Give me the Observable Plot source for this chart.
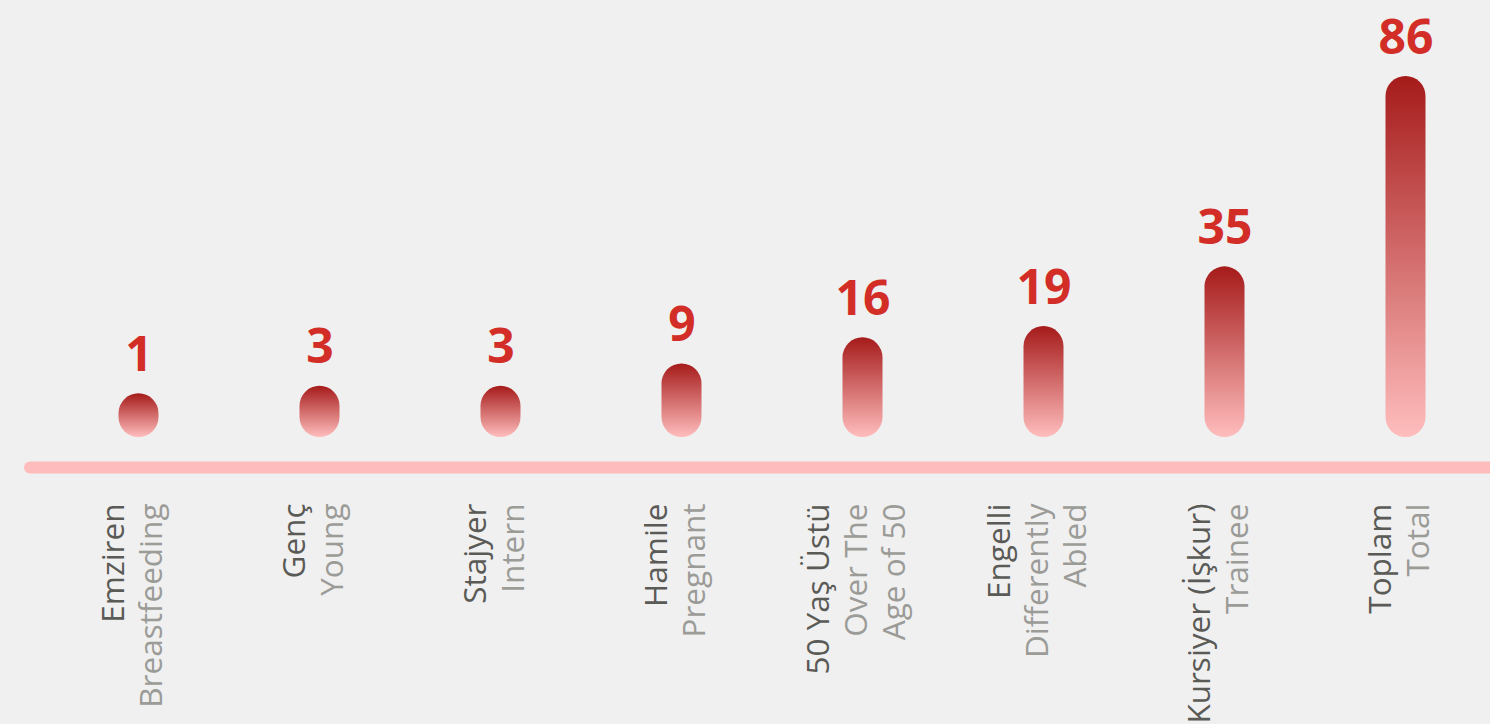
<!DOCTYPE html>
<html>
<head>
<meta charset="utf-8">
<script src="https://cdn.jsdelivr.net/npm/d3@7"></script>
<script src="https://cdn.jsdelivr.net/npm/@observablehq/plot@0.6"></script>
<style>
  html, body { margin: 0; padding: 0; background: #f0f0f0; overflow: hidden; }
  #chart svg { display: block; background: #f0f0f0; }
</style>
</head>
<body>
<div id="chart"></div>
<script>
// Data
const categoriesTr = ["Emziren", "Genç", "Stajyer", "Hamile", "50 Yaş Üstü", "Engelli", "Kursiyer (İşkur)", "Toplam"];
const categoriesEn = ["Breastfeeding", "Young", "Intern", "Pregnant", "Over The\nAge of 50", "Differently\nAbled", "Trainee", "Total"];
const values = [1, 3, 3, 9, 16, 19, 35, 86];

const data = categoriesTr.map((tr, i) => {
  const en = categoriesEn[i];
  const enLines = en.split("\n");
  return {
    key: tr,
    value: values[i],
    trText: [tr, ...enLines.map(() => "")].join("\n"),
    enText: ["", ...enLines].join("\n")
  };
});

const gradientDefs = () => {
  const defs = d3.create("svg:defs");
  const g = defs.append("linearGradient")
    .attr("id", "barGrad").attr("x1", 0).attr("y1", 0).attr("x2", 0).attr("y2", 1);
  g.append("stop").attr("offset", "0%").attr("stop-color", "#a51b1a");
  g.append("stop").attr("offset", "100%").attr("stop-color", "#ffbdbd");
  return defs.node();
};

const labelFont = 31.5;

const chart = Plot.plot({
  width: 1490,
  height: 724,
  marginLeft: 30,
  marginRight: 0,
  marginTop: 0,
  marginBottom: 0,
  style: { background: "#f0f0f0", fontFamily: "'Open Sans', sans-serif" },
  x: { domain: categoriesTr, range: [47.5, 1495.5], padding: 0, axis: null },
  y: { domain: [0, 86], range: [417, 96], axis: null },
  marks: [
    gradientDefs,
    Plot.ruleY([0], { dy: 50, stroke: "#ffbcbc", strokeWidth: 12, strokeLinecap: "round" }),
    Plot.barY(data, {
      x: "key", y: "value",
      fill: "url(#barGrad)",
      insetLeft: 70.5, insetRight: 70.5,
      insetTop: -20, insetBottom: -20,
      rx: 20
    }),
    Plot.text(data, {
      x: "key", y: "value", text: d => String(d.value),
      dy: -43, lineAnchor: "bottom",
      fontSize: 48, fontWeight: "bold", fill: "#d22e27",
      fontFamily: "'Open Sans', sans-serif"
    }),
    Plot.text(data, {
      x: "key", frameAnchor: "top", dy: 503, dx: -8,
      text: "trText", rotate: -90, textAnchor: "end", lineAnchor: "middle",
      lineHeight: 38 / labelFont, fontSize: labelFont, fill: "#5a5a56",
      fontFamily: "'Open Sans', sans-serif"
    }),
    Plot.text(data, {
      x: "key", frameAnchor: "top", dy: 503, dx: -8,
      text: "enText", rotate: -90, textAnchor: "end", lineAnchor: "middle",
      lineHeight: 38 / labelFont, fontSize: labelFont, fill: "#9b9b97",
      fontFamily: "'Open Sans', sans-serif"
    })
  ]
});

document.getElementById("chart").appendChild(chart);
</script>
</body>
</html>
